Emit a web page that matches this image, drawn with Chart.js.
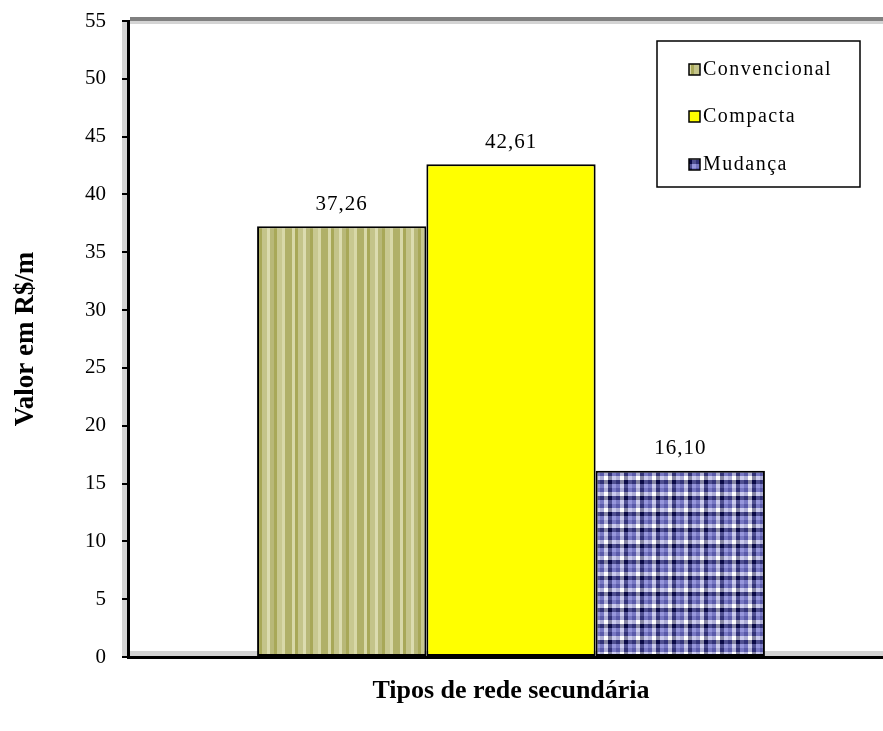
<!DOCTYPE html>
<html lang="pt">
<head>
<meta charset="UTF-8" />
<title>Tipos de rede secundária</title>
<script src="https://cdn.jsdelivr.net/npm/chart.js"></script>
<style>
  body { margin: 0; background: #fff; overflow: hidden; }
  #wrap { width: 883px; height: 731px; overflow: hidden; }
</style>
</head>
<body>
<!-- plot area runs off the right edge like the original -->
<div id="wrap"><canvas id="chart" width="894" height="731"></canvas></div>
<script>
const categories = ["Tipos de rede secundária"];
const seriesNames = ["Convencional", "Compacta", "Mudança"];
const seriesValues = [37.26, 42.61, 16.10];
const yTicks = [0, 5, 10, 15, 20, 25, 30, 35, 40, 45, 50, 55];

const FONT = "'Liberation Serif', 'DejaVu Serif', serif";

// olive vertical stripes
function stripePattern(ctx) {
  const c = document.createElement('canvas');
  const parts = [[4,'#b0b068'],[3,'#d8d8a8'],[3,'#a8a858'],[5,'#c4c48a'],[3,'#dcdcb0'],
                 [4,'#b8b878'],[3,'#a8a858'],[5,'#c8c890'],[3,'#d8d8a8'],[3,'#b0b068']];
  const w = parts.reduce((s, p) => s + p[0], 0);
  c.width = w; c.height = 4;
  const g = c.getContext('2d');
  let x = 0;
  parts.forEach(([pw, col]) => { g.fillStyle = col; g.fillRect(x, 0, pw, 4); x += pw; });
  return ctx.createPattern(c, 'repeat');
}

// blue tartan: each cell mixes a row band and a column band
function checkPattern(ctx) {
  const bands = [[10, 10, 70], [150, 150, 220], [90, 90, 170], [255, 255, 255]];
  const cell = 4;
  const c = document.createElement('canvas');
  c.width = c.height = bands.length * cell;
  const g = c.getContext('2d');
  bands.forEach((rc, r) => {
    bands.forEach((cc, k) => {
      const m = rc.map((v, i) => Math.round((v + cc[i]) / 2));
      g.fillStyle = `rgb(${m[0]},${m[1]},${m[2]})`;
      g.fillRect(k * cell, r * cell, cell, cell);
    });
  });
  return ctx.createPattern(c, 'repeat');
}

const canvas = document.getElementById('chart');
const ctx = canvas.getContext('2d');
const fills = [stripePattern(ctx), '#ffff00', checkPattern(ctx)];

const frame = {
  id: 'frame',
  beforeDraw(chart) {
    const { ctx, chartArea: a } = chart;
    ctx.save();
    ctx.fillStyle = '#808080';
    ctx.fillRect(a.left + 2, a.top - 4, chart.width - a.left, 4);
    ctx.fillStyle = '#d4d4d4';
    ctx.fillRect(a.left + 2, a.top, chart.width - a.left, 3);
    ctx.fillRect(a.left - 6, a.top, 5, a.bottom - a.top);
    ctx.fillRect(a.left + 2, a.bottom - 6, chart.width - a.left, 5);
    ctx.restore();
  }
};

const valueLabels = {
  id: 'valueLabels',
  afterDatasetsDraw(chart) {
    const { ctx } = chart;
    ctx.save();
    ctx.font = '21px ' + FONT;
    ctx.letterSpacing = '1px';
    ctx.fillStyle = '#000';
    ctx.textAlign = 'center';
    ctx.textBaseline = 'middle';
    chart.data.datasets.forEach((ds, i) => {
      chart.getDatasetMeta(i).data.forEach((bar, j) => {
        ctx.fillText(ds.data[j].toFixed(2).replace('.', ','), bar.x, bar.y - 22);
      });
    });
    ctx.restore();
  }
};

const legendBox = {
  id: 'legendBox',
  afterDraw(chart) {
    const { ctx } = chart;
    const x = 657, y = 41, w = 203, h = 146;
    ctx.save();
    ctx.fillStyle = '#fff';
    ctx.fillRect(x, y, w, h);
    ctx.strokeStyle = '#000';
    ctx.lineWidth = 1.5;
    ctx.strokeRect(x, y, w, h);
    ctx.font = '20px ' + FONT;
    ctx.letterSpacing = '1.5px';
    ctx.textBaseline = 'middle';
    const rows = [69, 116, 164];
    chart.data.datasets.forEach((ds, i) => {
      const sy = rows[i];
      ctx.fillStyle = ds.backgroundColor;
      ctx.fillRect(689, sy - 5, 11, 11);
      ctx.lineWidth = 1.5;
      ctx.strokeRect(689, sy - 5, 11, 11);
      ctx.fillStyle = '#000';
      ctx.fillText(ds.label, 703, sy + 1);
    });
    ctx.restore();
  }
};

new Chart(ctx, {
  type: 'bar',
  data: {
    labels: categories,
    datasets: seriesNames.map((name, i) => ({
      label: name,
      data: [seriesValues[i]],
      backgroundColor: fills[i],
      borderColor: '#000',
      borderWidth: 2,
      borderSkipped: false,
      categoryPercentage: 0.663,
      barPercentage: 1
    }))
  },
  options: {
    responsive: false,
    animation: false,
    layout: { padding: { top: 21, right: 0, left: 0, bottom: 0 } },
    plugins: { legend: { display: false }, tooltip: { enabled: false } },
    scales: {
      x: {
        grid: { display: false },
        border: { color: '#000', width: 3 },
        ticks: { display: false },
        title: {
          display: true,
          text: 'Tipos de rede secundária',
          color: '#000',
          font: { family: FONT, size: 26, weight: 'bold' },
          padding: { top: 0, bottom: 24 }
        },
        afterFit(scale) { scale.height = 74; }
      },
      y: {
        min: 0,
        max: 55,
        afterBuildTicks(scale) { scale.ticks = yTicks.map(v => ({ value: v })); },
        grid: { drawOnChartArea: false, drawTicks: true, tickLength: 6, color: '#000', lineWidth: 2 },
        border: { color: '#000', width: 3 },
        ticks: {
          color: '#000',
          padding: 16,
          font: { family: FONT, size: 21 }
        },
        title: {
          display: true,
          text: 'Valor em R$/m',
          color: '#000',
          font: { family: FONT, size: 27, weight: 'bold' },
          padding: { top: 10, bottom: 0 }
        },
        afterFit(scale) {
          scale.width = 128;
          scale.paddingTop = 0;
          scale.paddingBottom = 0;
        }
      }
    }
  },
  plugins: [frame, valueLabels, legendBox]
});
</script>
</body>
</html>
